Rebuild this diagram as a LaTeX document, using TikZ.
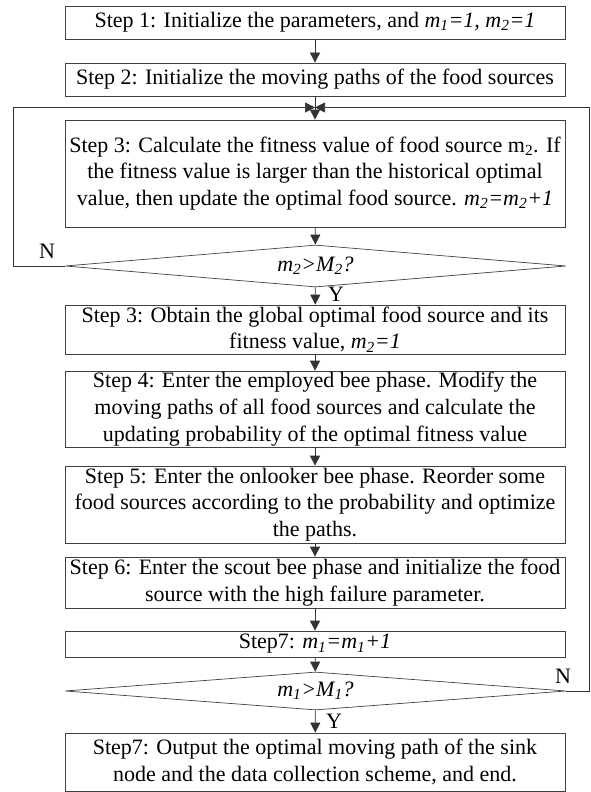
\documentclass[tikz,border=0pt]{standalone}
\usepackage{fontspec}
\setmainfont{Liberation Serif}
\usetikzlibrary{arrows.meta,shapes.geometric}

\begin{document}
\begin{tikzpicture}[x=1pt, y=1pt, every node/.style={font=\fontsize{22}{26.7}\selectfont},
  stepbox/.style={draw=black!75, line width=0.7pt, rectangle, minimum width=500pt, inner sep=0pt, align=center},
  testbox/.style={draw=black!75, line width=0.7pt, diamond, aspect=12, minimum width=501pt, inner sep=0pt},
  flow/.style={draw=black!80, line width=0.7pt, -{Triangle[length=10pt,width=10pt]}}]
  \useasboundingbox (0,0) rectangle (590,-792);
  \node[stepbox, minimum height=33pt] (s1) at (315,-22.5) {Step 1: Initialize the parameters, and \textit{m\textsubscript{1}=1, m\textsubscript{2}=1}};
  \node[stepbox, minimum height=33pt] (s2) at (315,-79.5) {Step 2: Initialize the moving paths of the food sources};
  \node[stepbox, minimum height=107pt] (s3) at (315,-173.5) {Step 3: Calculate the fitness value of food source m\textsubscript{2}. If\\ the fitness value is larger than the historical optimal\\ value, then update the optimal food source. \textit{m\textsubscript{2}=m\textsubscript{2}+1}};
  \node[testbox, minimum height=42pt] (t1) at (315.5,-266) {\textit{m\textsubscript{2}>M\textsubscript{2}?}};
  \node[stepbox, minimum height=49pt] (s4) at (315,-329.5) {Step 3: Obtain the global optimal food source and its\\ fitness value, \textit{m\textsubscript{2}=1}};
  \node[stepbox, minimum height=76pt] (s5) at (315,-409) {Step 4: Enter the employed bee phase. Modify the\\ moving paths of all food sources and calculate the\\ updating probability of the optimal fitness value};
  \node[stepbox, minimum height=77pt] (s6) at (315,-504.5) {Step 5: Enter the onlooker bee phase. Reorder some\\ food sources according to the probability and optimize\\ the paths.};
  \node[stepbox, minimum height=51pt] (s7) at (315,-582.5) {Step 6: Enter the scout bee phase and initialize the food\\ source with the high failure parameter.};
  \node[stepbox, minimum height=26pt] (s8) at (315,-644) {Step7: \textit{m\textsubscript{1}=m\textsubscript{1}+1}};
  \node[testbox, minimum height=38pt] (t2) at (315.5,-691) {\textit{m\textsubscript{1}>M\textsubscript{1}?}};
  \node[stepbox, minimum height=58pt] (s9) at (315,-762) {Step7: Output the optimal moving path of the sink\\ node and the data collection scheme, and end.};
  \coordinate (join) at (315,-107.5);
  \coordinate (leftturn) at (13,-266);
  \coordinate (rightturn) at (589,-691);
  \draw[flow] (s1) -- (s2);
  \draw[flow] (s2) -- (s3);
  \draw[flow] (s3) -- (t1);
  \draw[flow] (t1) -- (s4);
  \draw[flow] (s4) -- (s5);
  \draw[flow] (s5) -- (s6);
  \draw[flow] (s6) -- (s7);
  \draw[flow] (s7) -- (s8);
  \draw[flow] (s8) -- (t2);
  \draw[flow] (t2) -- (s9);
  \draw[flow] (t1.west) -- (leftturn) |- (join);
  \draw[flow] (t2.east) -- (rightturn) |- (join);
  \node (n1) at (47,-251) {N};
  \node (n2) at (563,-676) {N};
  \node (y1) at (336,-294) {Y};
  \node (y2) at (334,-721) {Y};
\end{tikzpicture}
\end{document}
